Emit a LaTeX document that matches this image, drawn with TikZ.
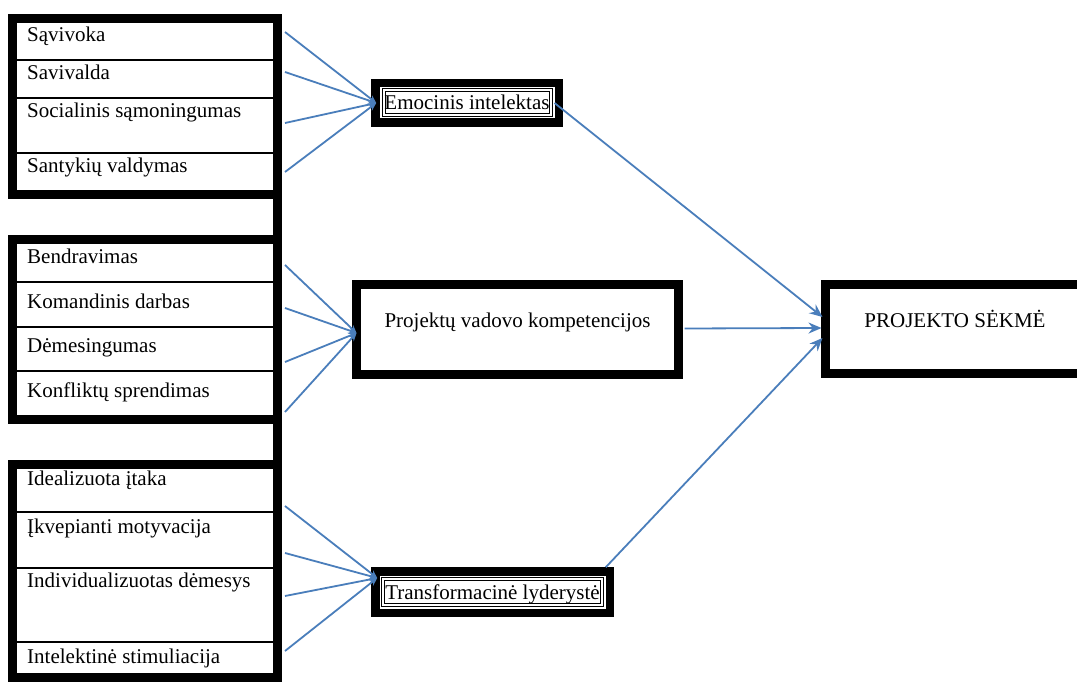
\documentclass[tikz,border=0pt]{standalone}
\usepackage{fontspec}
\setmainfont{Liberation Serif}
\usetikzlibrary{arrows.meta}
\definecolor{arrowblue}{HTML}{4A7EBB}
\begin{document}
\begin{tikzpicture}[x=1pt,y=-1pt,
  font=\fontsize{21}{25}\selectfont,
  frameline/.style={draw=black, line width=9pt, line join=miter},
  rowline/.style={draw=black, line width=2pt},
  celltext/.style={anchor=base west, inner sep=0pt, text=black},
  thickframe/.style={draw=black, line width=8.5pt, inner sep=0pt, outer sep=0pt},
  bigframe/.style={draw=black, line width=9pt, inner sep=0pt, outer sep=0pt},
  dblbox/.style={draw=black, line width=1pt, double=white, double distance=2pt, inner sep=0pt, outer sep=0pt},
  smallconn/.style={draw=arrowblue, line width=1.8pt, -{Stealth[length=8pt,width=7pt]}},
  bigconn/.style={draw=arrowblue, line width=1.8pt, -{Stealth[length=13pt,width=11pt]}}
]
\clip (0,0) rectangle (1077,682);
\fill[white] (0,0) rectangle (1077,682);

% left table frames
\draw[frameline] (12.5,18.5) rectangle (277.5,195);
\draw[frameline] (12.5,239.5) rectangle (277.5,419);
\draw[frameline] (12.5,464.5) rectangle (277.5,677);
\draw[frameline] (277.5,18.5) -- (277.5,677);

% row separators
\foreach \yy in {60,98,153,282,327,371,512,568,642}
  \draw[rowline] (17,\yy) -- (273,\yy);

% cell texts
\node[celltext] (c1a) at (27,42) {Sąvivoka};
\node[celltext] (c1b) at (27,80) {Savivalda};
\node[celltext] (c1c) at (27,118) {Socialinis sąmoningumas};
\node[celltext] (c1d) at (27,173) {Santykių valdymas};
\node[celltext] (c2a) at (27,263) {Bendravimas};
\node[celltext] (c2b) at (27,308) {Komandinis darbas};
\node[celltext] (c2c) at (27,352) {Dėmesingumas};
\node[celltext] (c2d) at (27,397) {Konfliktų sprendimas};
\node[celltext] (c3a) at (27,485) {Idealizuota įtaka};
\node[celltext] (c3b) at (27,533) {Įkvepianti motyvacija};
\node[celltext] (c3c) at (27,587) {Individualizuotas dėmesys};
\node[celltext] (c3d) at (27,663) {Intelektinė stimuliacija};

% middle nodes
\node[thickframe, minimum width=183.5pt, minimum height=39.5pt] (emo) at (467,103) {};
\node[dblbox, minimum width=167pt, minimum height=25pt, text height=15pt, text depth=2pt] (emod) at (emo) {Emocinis intelektas};

\node[bigframe, minimum width=322pt, minimum height=90pt, text height=15pt, text depth=20pt] (pvk) at (517.5,329.5) {Projektų vadovo kompetencijos};

\node[thickframe, minimum width=234.5pt, minimum height=41.5pt] (tl) at (492.5,592) {};
\node[dblbox, minimum width=219pt, minimum height=26pt, text height=16pt, text depth=1pt] (tld) at (tl) {Transformacinė lyderystė};

\node[bigframe, minimum width=259pt, minimum height=89pt, text height=15pt, text depth=19pt] (psk) at (955,329) {PROJEKTO SĖKMĖ};

% start coordinates of the left connectors
\coordinate (s1a) at (285,32);
\coordinate (s1b) at (285,72);
\coordinate (s1c) at (285,123);
\coordinate (s1d) at (285,172);
\coordinate (s2a) at (285,265);
\coordinate (s2b) at (285,308);
\coordinate (s2c) at (285,362);
\coordinate (s2d) at (285,412);
\coordinate (s3a) at (285,506);
\coordinate (s3b) at (285,553);
\coordinate (s3c) at (285,596);
\coordinate (s3d) at (285,651);

\foreach \s in {s1a,s1b,s1c,s1d}
  \draw[smallconn] (\s) -- ([xshift=1pt]emo.west);
\foreach \s in {s2a,s2b,s2c,s2d}
  \draw[smallconn] (\s) -- ([yshift=-3.5pt]pvk.west);
\foreach \s in {s3a,s3b,s3c,s3d}
  \draw[smallconn] (\s) -- ([xshift=2pt,yshift=14pt]tl.west);

% connectors to the result
\draw[bigconn] ([xshift=4pt]emod.east) -- ([xshift=-3pt,yshift=12pt]psk.west);
\draw[bigconn] ([xshift=6pt,yshift=1pt]pvk.east) -- ([xshift=-4pt,yshift=1pt]psk.west);
\draw[bigconn] ([xshift=-4pt,yshift=4pt]tl.north east) -- ([xshift=-3pt,yshift=-9pt]psk.west);
\end{tikzpicture}
\end{document}
